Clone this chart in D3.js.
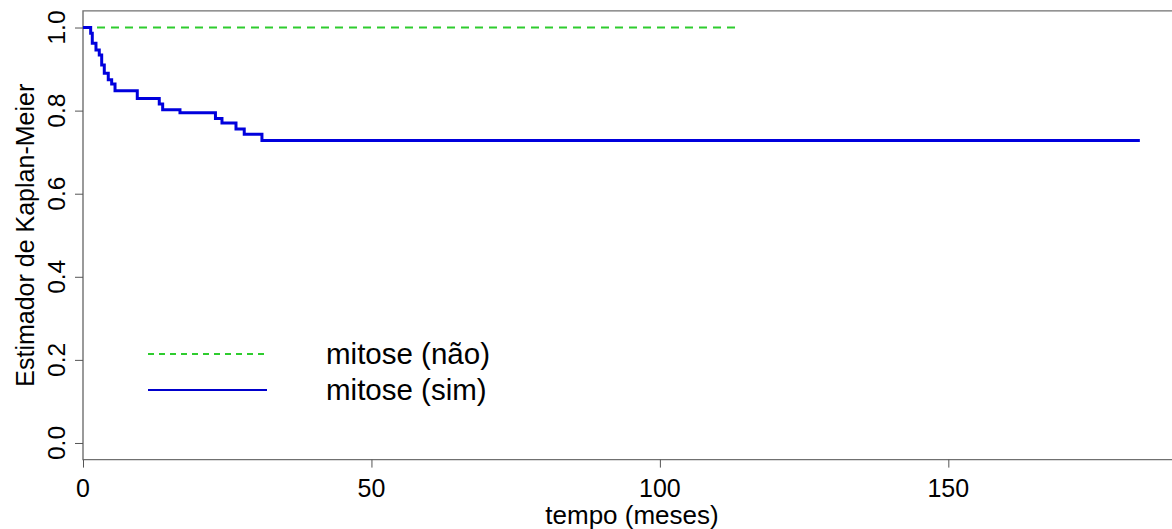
<!DOCTYPE html>
<html>
<head>
<meta charset="utf-8">
<script src="https://cdn.jsdelivr.net/npm/d3@7"></script>
<style>
  html, body { margin: 0; padding: 0; background: #fff; }
  svg text { font-family: "Liberation Sans", Arial, sans-serif; fill: #000; }
</style>
</head>
<body>
<svg id="chart" width="1172" height="529"></svg>
<script>
// Kaplan-Meier step curves (time in months, survival estimate)
const timeSim = [0, 1.33, 1.61, 2.25, 2.82, 3.24, 3.69, 4.38, 4.97, 5.55, 9.41, 13.22, 13.81, 16.81, 22.96, 24.09, 26.52, 27.95, 31.02, 183.2];
const survSim = [1, 0.986, 0.962, 0.946, 0.934, 0.910, 0.890, 0.874, 0.864, 0.848, 0.829, 0.816, 0.802, 0.795, 0.781, 0.770, 0.756, 0.743, 0.728, 0.728];
const timeNao = [0, 113.5];
const survNao = [1, 1];

const xTicks = [0, 50, 100, 150];
const yTicks = [0, 0.2, 0.4, 0.6, 0.8, 1.0];
const legendLabels = ["mitose (não)", "mitose (sim)"];

const svg = d3.select("#chart");

const x = d3.scaleLinear().domain([0, 188.6]).range([83, 1171]);
const y = d3.scaleLinear().domain([-0.04, 1.04]).range([459.6, 10.9]);

// plot frame (right side extends past the canvas)
svg.append("path")
  .attr("d", `M1180,${y(1.04)}H${x(0)}V${y(-0.04)}H1180`)
  .attr("fill", "none").attr("stroke", "#707070").attr("stroke-width", 1.4);

// x axis ticks
const xAxis = d3.axisBottom(x).tickValues(xTicks).tickSize(8).tickFormat("");
const gx = svg.append("g").attr("transform", `translate(0,${y(-0.04)})`).call(xAxis);
gx.select(".domain").remove();
gx.selectAll(".tick line").attr("stroke", "#555").attr("stroke-width", 1);

svg.append("g").selectAll("text").data(xTicks).join("text")
  .attr("x", d => x(d)).attr("y", 497)
  .attr("text-anchor", "middle").attr("font-size", 25)
  .text(d => d3.format("d")(d));

// y axis ticks
const yAxis = d3.axisLeft(y).tickValues(yTicks).tickSize(8).tickFormat("");
const gy = svg.append("g").attr("transform", `translate(${x(0)},0)`).call(yAxis);
gy.select(".domain").remove();
gy.selectAll(".tick line").attr("stroke", "#555").attr("stroke-width", 1);

svg.append("g").selectAll("text").data(yTicks).join("text")
  .attr("transform", d => `translate(65,${y(d)}) rotate(-90)`)
  .attr("text-anchor", "middle").attr("font-size", 24.5)
  .text(d => d3.format(".1f")(d));

// axis titles
svg.append("text")
  .attr("x", 632).attr("y", 524)
  .attr("text-anchor", "middle").attr("font-size", 26)
  .text("tempo (meses)");

svg.append("text")
  .attr("transform", `translate(34,${(y(-0.04) + y(1.04)) / 2}) rotate(-90)`)
  .attr("text-anchor", "middle").attr("font-size", 25)
  .text("Estimador de Kaplan-Meier");

// survival curves
const stepLine = d3.line().x(d => x(d[0])).y(d => y(d[1])).curve(d3.curveStepAfter);

svg.append("path")
  .datum(d3.zip(timeNao, survNao))
  .attr("d", stepLine)
  .attr("fill", "none").attr("stroke", "#2ecc2e").attr("stroke-width", 2)
  .attr("stroke-dasharray", "8,6");

svg.append("path")
  .datum(d3.zip(timeSim, survSim))
  .attr("d", stepLine)
  .attr("fill", "none").attr("stroke", "#0000dd").attr("stroke-width", 3)
  .attr("stroke-linejoin", "miter");

// legend
const legendStyles = [
  { stroke: "#2ecc2e", width: 2, dash: "6,5" },
  { stroke: "#0000cc", width: 2, dash: null }
];
const legendY = [354, 390];
const lg = svg.append("g");
legendLabels.forEach((label, i) => {
  lg.append("line")
    .attr("x1", 148).attr("x2", 267)
    .attr("y1", legendY[i]).attr("y2", legendY[i])
    .attr("stroke", legendStyles[i].stroke)
    .attr("stroke-width", legendStyles[i].width)
    .attr("stroke-dasharray", legendStyles[i].dash);
  lg.append("text")
    .attr("x", 326).attr("y", legendY[i] + 10)
    .attr("font-size", 29.5)
    .text(label);
});
</script>
</body>
</html>
